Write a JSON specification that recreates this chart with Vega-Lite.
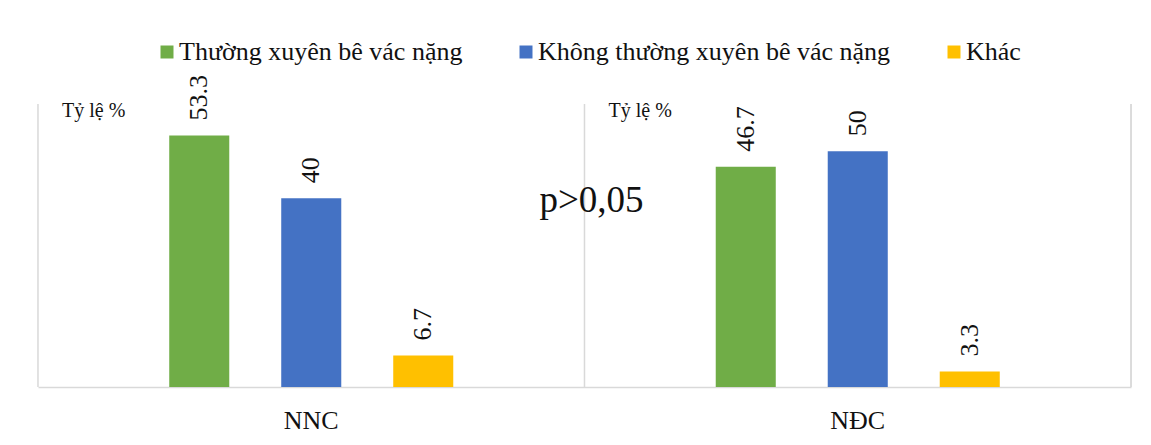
{
  "$schema": "https://vega.github.io/schema/vega-lite/v6.json",
  "autosize": "none",
  "width": 1093,
  "height": 283,
  "padding": {"left": 38, "top": 104, "right": 20, "bottom": 58},
  "background": "white",
  "config": {"view": {"stroke": null}, "font": "Liberation Serif"},
  "datasets": {
    "bars": [
      {"group": "NNC", "series": "Thường xuyên bê vác nặng", "value": 53.3},
      {"group": "NNC", "series": "Không thường xuyên bê vác nặng", "value": 40},
      {"group": "NNC", "series": "Khác", "value": 6.7},
      {"group": "NĐC", "series": "Thường xuyên bê vác nặng", "value": 46.7},
      {"group": "NĐC", "series": "Không thường xuyên bê vác nặng", "value": 50},
      {"group": "NĐC", "series": "Khác", "value": 3.3}
    ],
    "groups": [
      {"group": "NNC", "ylabel": "Tỷ lệ %"},
      {"group": "NĐC", "ylabel": "Tỷ lệ %"}
    ]
  },
  "layer": [
    {
      "data": {"name": "groups"},
      "mark": {"type": "rule", "color": "#d9d9d9", "strokeWidth": 1.5},
      "encoding": {
        "x": {"field": "group", "type": "nominal", "sort": ["NNC", "NĐC"], "bandPosition": -0.0379}
      }
    },
    {
      "data": {"name": "groups"},
      "mark": {"type": "rule", "color": "#d9d9d9", "strokeWidth": 1.5},
      "encoding": {
        "x": {"datum": "NĐC", "type": "nominal", "bandPosition": 1.0379}
      }
    },
    {
      "data": {"name": "bars"},
      "mark": {"type": "bar"},
      "encoding": {
        "x": {
          "field": "group", "type": "nominal", "sort": ["NNC", "NĐC"],
          "scale": {"paddingInner": 0.0704, "paddingOuter": 0.0352},
          "axis": {
            "title": null, "ticks": false, "domainColor": "#d9d9d9", "domainWidth": 1.5,
            "labelAngle": 0, "labelAlign": "center", "labelFont": "Liberation Serif", "labelFontSize": 26,
            "labelColor": "#111", "labelBaseline": "alphabetic", "labelPadding": 41,
            "grid": false
          }
        },
        "xOffset": {
          "field": "series", "type": "nominal",
          "sort": ["Thường xuyên bê vác nặng", "Không thường xuyên bê vác nặng", "Khác"],
          "scale": {"paddingInner": 0.464, "paddingOuter": 1}
        },
        "y": {"field": "value", "type": "quantitative", "scale": {"domain": [0, 60], "nice": false}, "axis": null},
        "color": {
          "field": "series", "type": "nominal",
          "sort": ["Thường xuyên bê vác nặng", "Không thường xuyên bê vác nặng", "Khác"],
          "scale": {"range": ["#70ad47", "#4472c4", "#ffc000"]},
          "legend": {
            "title": null, "orient": "none", "direction": "horizontal",
            "legendX": 116, "legendY": -65,
            "symbolType": "square", "symbolSize": 169, "symbolStrokeWidth": 0,
            "labelFont": "Liberation Serif", "labelFontSize": 26, "labelColor": "#111",
            "labelOffset": -1, "labelLimit": 0, "columnPadding": 50
          }
        }
      }
    },
    {
      "data": {"name": "bars"},
      "mark": {"type": "text", "angle": 270, "align": "left", "baseline": "middle", "dx": 15,
               "font": "Liberation Sans Narrow", "fontSize": 26, "color": "#111"},
      "encoding": {
        "x": {"field": "group", "type": "nominal", "sort": ["NNC", "NĐC"]},
        "xOffset": {"field": "series", "type": "nominal",
          "sort": ["Thường xuyên bê vác nặng", "Không thường xuyên bê vác nặng", "Khác"]},
        "y": {"field": "value", "type": "quantitative"},
        "text": {"field": "value", "type": "quantitative"}
      }
    },
    {
      "data": {"name": "groups"},
      "mark": {"type": "text", "align": "left", "baseline": "alphabetic", "dx": 24, "dy": 13,
               "font": "Liberation Serif", "fontSize": 20, "color": "#111"},
      "encoding": {
        "x": {"field": "group", "type": "nominal", "sort": ["NNC", "NĐC"], "bandPosition": -0.0379},
        "y": {"datum": 60, "type": "quantitative"},
        "text": {"field": "ylabel"}
      }
    },
    {
      "data": {"name": "groups"},
      "transform": [{"filter": "datum.group === 'NĐC'"}],
      "mark": {"type": "text", "align": "center", "baseline": "alphabetic", "dx": 7,
               "font": "Liberation Serif", "fontSize": 37, "color": "#111"},
      "encoding": {
        "x": {"field": "group", "type": "nominal", "bandPosition": -0.0379},
        "y": {"datum": 37.1, "type": "quantitative"},
        "text": {"value": "p>0,05"}
      }
    }
  ]
}
